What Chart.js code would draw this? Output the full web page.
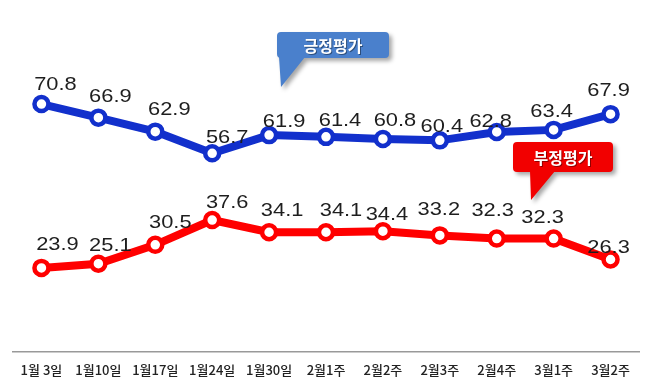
<!DOCTYPE html>
<html>
<head>
<meta charset="utf-8">
<script src="https://cdn.jsdelivr.net/npm/chart.js@4/dist/chart.umd.min.js"></script>
<style>
  html, body { margin: 0; padding: 0; background: #fff; }
  #wrap { width: 647px; height: 389px; }
</style>
</head>
<body>
<div id="wrap"><canvas id="chart-area" width="647" height="389"></canvas></div>
<script>
// 주간 직무수행 평가 (%)
const weeks = ['1월 3일', '1월10일', '1월17일', '1월24일', '1월30일', '2월1주', '2월2주', '2월3주', '2월4주', '3월1주', '3월2주'];
const positive = [70.8, 66.9, 62.9, 56.7, 61.9, 61.4, 60.8, 60.4, 62.8, 63.4, 67.9];
const negative = [23.9, 25.1, 30.5, 37.6, 34.1, 34.1, 34.4, 33.2, 32.3, 32.3, 26.3];

// label nudges (px) relative to each point, to keep the labels where the original put them
const posNudge = {
    dx: [14, 12, 14, 15, 15, 14, 12, 2, -6, -2, -2],
    dy: [14, 16, 17, 10, 8, 11, 13, 8, 5, 13, 18]
};
const negNudge = {
    dx: [16, 12, 15, 15, 13, 15, 4, -1, -4, -11, -2],
    dy: [18, 13, 17, 12, 16, 16, 11, 20, 23, 16, 7]
};

const valueLabels = {
    id: 'valueLabels',
    afterDatasetsDraw(chart) {
        const ctx = chart.ctx;
        chart.data.datasets.forEach(function(ds, i) {
            const nudge = i === 0 ? posNudge : negNudge;
            chart.getDatasetMeta(i).data.forEach(function(pt, j) {
                ctx.save();
                ctx.font = '19px "Liberation Sans", Arial, sans-serif';
                ctx.fillStyle = '#1e1e1e';
                ctx.textAlign = 'center';
                ctx.textBaseline = 'alphabetic';
                ctx.translate(pt.x + nudge.dx[j], pt.y - nudge.dy[j]);
                ctx.scale(1.15, 1);  // original numbers look a bit wide
                ctx.fillText(ds.data[j].toFixed(1), 0, 0);
                ctx.restore();
            });
        });
    }
};

// speech-bubble tags
const callouts = [
    { text: '긍정평가', color: '#4a80cc', box: [277, 32, 112, 26], tail: [[279, 57], [305, 57], [281, 87]] },
    { text: '부정평가', color: '#f20000', box: [513, 142, 100, 30], tail: [[530, 171], [555, 171], [531, 200]] }
];

function roundRect(ctx, x, y, w, h, r) {
    ctx.moveTo(x + r, y);
    ctx.lineTo(x + w - r, y);
    ctx.quadraticCurveTo(x + w, y, x + w, y + r);
    ctx.lineTo(x + w, y + h - r);
    ctx.quadraticCurveTo(x + w, y + h, x + w - r, y + h);
    ctx.lineTo(x + r, y + h);
    ctx.quadraticCurveTo(x, y + h, x, y + h - r);
    ctx.lineTo(x, y + r);
    ctx.quadraticCurveTo(x, y, x + r, y);
}

const calloutPlugin = {
    id: 'callouts',
    afterDraw(chart) {
        const ctx = chart.ctx;
        callouts.forEach(function(c) {
            const b = c.box;
            ctx.save();
            ctx.shadowColor = 'rgba(0,0,0,0.35)';
            ctx.shadowOffsetX = 3;
            ctx.shadowOffsetY = 3;
            ctx.shadowBlur = 4;
            ctx.fillStyle = c.color;
            ctx.beginPath();
            roundRect(ctx, b[0], b[1], b[2], b[3], 4);
            ctx.moveTo(c.tail[0][0], c.tail[0][1]);
            ctx.lineTo(c.tail[1][0], c.tail[1][1]);
            ctx.lineTo(c.tail[2][0], c.tail[2][1]);
            ctx.closePath();
            ctx.fill();
            ctx.restore();

            ctx.save();
            ctx.fillStyle = '#ffffff';
            ctx.font = 'bold 16px "Noto Sans CJK KR", sans-serif';
            ctx.textAlign = 'center';
            ctx.textBaseline = 'middle';
            ctx.shadowColor = 'rgba(0,0,0,0.4)';
            ctx.shadowOffsetX = 1;
            ctx.shadowOffsetY = 1;
            ctx.fillText(c.text, b[0] + b[2] / 2, b[1] + b[3] / 2 + 1);
            ctx.restore();
        });
    }
};

const whiteBg = {
    id: 'whiteBg',
    beforeDraw(chart) {
        const ctx = chart.ctx;
        ctx.save();
        ctx.fillStyle = '#ffffff';
        ctx.fillRect(0, 0, chart.width, chart.height);
        ctx.restore();
    }
};

var config = {
    type: 'line',
    data: {
        labels: weeks,
        datasets: [{
            label: '긍정평가',
            data: positive,
            borderColor: '#1230cc',
            borderWidth: 8,
            pointRadius: 7,
            pointBorderWidth: 4.5,
            pointBackgroundColor: '#ffffff',
            pointBorderColor: '#1230cc',
            tension: 0
        }, {
            label: '부정평가',
            data: negative,
            borderColor: '#ff0000',
            borderWidth: 8,
            pointRadius: 7,
            pointBorderWidth: 4.5,
            pointBackgroundColor: '#ffffff',
            pointBorderColor: '#ff0000',
            tension: 0
        }]
    },
    options: {
        responsive: false,
        animation: false,
        layout: {
            autoPadding: false,
            padding: { left: 13, right: 8, top: 2, bottom: 0 }
        },
        plugins: {
            legend: { display: false },
            tooltip: { enabled: false }
        },
        scales: {
            x: {
                offset: true,
                grid: { display: false, drawTicks: false },
                border: { display: true, color: '#999999', width: 1.5 },
                ticks: {
                    padding: 11,
                    color: '#222222',
                    font: { family: '"Noto Sans CJK KR", sans-serif', size: 13, weight: '500' },
                    maxRotation: 0,
                    autoSkip: false
                }
            },
            y: {
                display: false,
                min: 0,
                max: 100
            }
        }
    },
    plugins: [whiteBg, valueLabels, calloutPlugin]
};

window.onload = function() {
    var ctx = document.getElementById('chart-area').getContext('2d');
    window.myLine = new Chart(ctx, config);
};
</script>
</body>
</html>
